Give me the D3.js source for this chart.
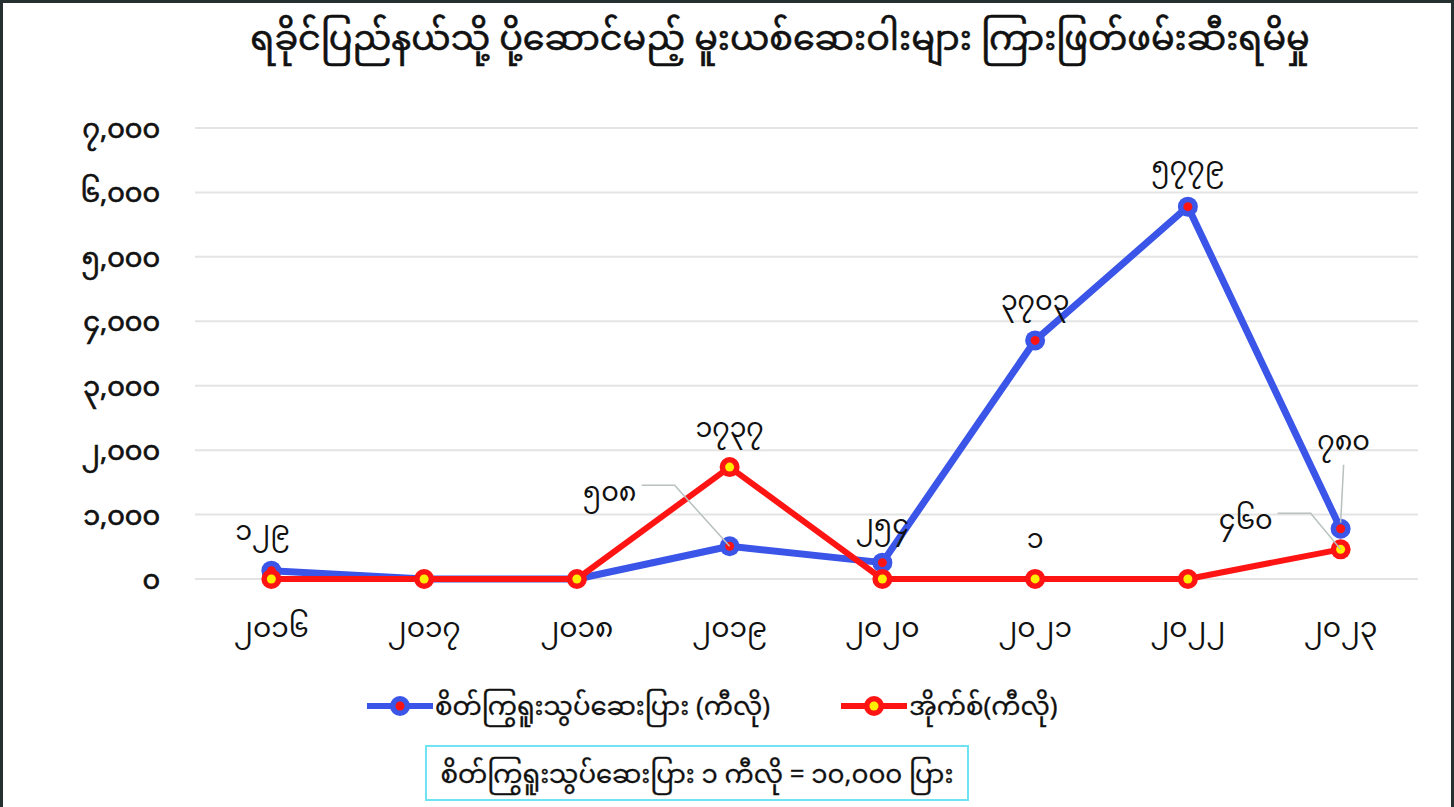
<!DOCTYPE html>
<html><head><meta charset="utf-8">
<script src="https://cdn.jsdelivr.net/npm/d3@7/dist/d3.min.js"></script>
<style>
html,body{margin:0;padding:0;background:#fff;}
svg{display:block;}
text{font-family:"Noto Sans Myanmar","Padauk","Myanmar Text","Noto Sans",sans-serif;fill:#111;}
</style></head>
<body><svg id="c" width="1454" height="807"></svg>
<script>
const title = "ရခိုင်ပြည်နယ်သို့ ပို့ဆောင်မည့် မူးယစ်ဆေးဝါးများ ကြားဖြတ်ဖမ်းဆီးရမိမှု";
const years = [2016, 2017, 2018, 2019, 2020, 2021, 2022, 2023];
const stimulantKg = [129, 0, 0, 508, 254, 3703, 5779, 780];
const iceKg = [0, 0, 0, 1737, 0, 1, 0, 460];
const yTicks = [0, 1000, 2000, 3000, 4000, 5000, 6000, 7000];
const seriesNames = ["စိတ်ကြွရူးသွပ်ဆေးပြား (ကီလို)", "အိုက်စ်(ကီလို)"];
const footnote = "စိတ်ကြွရူးသွပ်ဆေးပြား ၁ ကီလို = ၁၀,၀၀၀ ပြား";

const mm = s => String(s).replace(/[0-9]/g, d => String.fromCharCode(0x1040 + +d));

const svg = d3.select("#c");
const W = 1454, H = 807;
svg.append("rect").attr("x",1.5).attr("y",1.5).attr("width",W-3).attr("height",H+10)
  .attr("fill","none").attr("stroke","#263030").attr("stroke-width",3);

const x = d3.scaleBand().domain(years).range([195, 1417]);
const y = d3.scaleLinear().domain([0, 7000]).range([579, 128]);
const cx = d => x(d) + x.bandwidth()/2;

svg.append("text").attr("x",780).attr("y",50).attr("text-anchor","middle")
  .attr("font-size",35).attr("stroke","#111").attr("stroke-width",0.6).text(title);

svg.append("g").selectAll("line").data(yTicks).join("line")
  .attr("x1",195).attr("x2",1418).attr("y1",d=>y(d)).attr("y2",d=>y(d))
  .attr("stroke","#e4e4e4").attr("stroke-width",2);

const ya = svg.append("g").attr("transform","translate(160,0)")
  .call(d3.axisLeft(y).tickValues(yTicks).tickSize(0).tickPadding(0)
    .tickFormat(d => mm(d3.format(",")(d))));
ya.select(".domain").remove();
ya.selectAll("text").attr("font-size",27).attr("dy","0.35em")
  .attr("stroke","#111").attr("stroke-width",0.7)
  .style("font-family",'"Noto Sans Myanmar","Padauk",sans-serif').attr("fill","#111");

const xa = svg.append("g").attr("transform","translate(0,612)")
  .call(d3.axisBottom(x).tickSize(0).tickPadding(0).tickFormat(d => mm(d)));
xa.select(".domain").remove();
xa.selectAll("text").attr("font-size",28).attr("dy","0.9em")
  .style("font-family",'"Noto Sans Myanmar","Padauk",sans-serif').attr("fill","#111");

const BLUE = "#3a55e8", RED = "#ff1414", YEL = "#ffee00";
const line = d3.line().x((d,i)=>cx(years[i])).y(d=>y(d));

svg.append("path").datum(stimulantKg).attr("d",line).attr("fill","none")
  .attr("stroke",BLUE).attr("stroke-width",7).attr("stroke-linejoin","round");
svg.append("path").datum(iceKg).attr("d",line).attr("fill","none")
  .attr("stroke",RED).attr("stroke-width",6).attr("stroke-linejoin","round");

const leaders = svg.append("g").attr("stroke","#b8c0c0").attr("stroke-width",1.5).attr("fill","none");

function markers(data, outer, inner, shown){
  const g = svg.append("g");
  data.forEach((v,i)=>{
    if(!shown(i)) return;
    g.append("circle").attr("cx",cx(years[i])).attr("cy",y(v)).attr("r",10).attr("fill",outer);
    g.append("circle").attr("cx",cx(years[i])).attr("cy",y(v)).attr("r",4.5).attr("fill",inner);
  });
}
markers(stimulantKg, BLUE, RED, i => stimulantKg[i] > 0);
markers(iceKg, RED, YEL, i => true);

const labelLayout = [
  {s:stimulantKg, i:0, dx:-9, dy:-40},
  {s:stimulantKg, i:3, dx:-120, dy:-55, leader:true},
  {s:iceKg, i:3, dx:0, dy:-40},
  {s:stimulantKg, i:4, dx:0, dy:-38},
  {s:stimulantKg, i:5, dx:0, dy:-40},
  {s:iceKg, i:5, dx:0, dy:-40},
  {s:stimulantKg, i:6, dx:0, dy:-40},
  {s:stimulantKg, i:7, dx:3, dy:-88, leader:true, vert:true},
  {s:iceKg, i:7, dx:-95, dy:-30, leader:true}
];
labelLayout.forEach(L=>{
  const px = cx(years[L.i]), py = y(L.s[L.i]);
  const tx = px + L.dx, ty = py + L.dy;
  svg.append("text").attr("x",tx).attr("y",ty).attr("text-anchor","middle")
    .attr("dy","0.35em").attr("font-size",27).text(mm(L.s[L.i]));
  if(L.leader){
    if(L.vert){
      leaders.append("path").attr("d",`M${tx}, ${ty+24} L${px},${py-6}`);
    } else {
      const ex = tx + 32;
      leaders.append("path").attr("d",`M${ex},${ty-6} L${ex+33},${ty-6} L${px},${py}`);
    }
  }
});
leaders.raise();

const lg = svg.append("g");
[[BLUE, RED, 367, seriesNames[0]],[RED, YEL, 841, seriesNames[1]]].forEach(([c,ic,lx,name])=>{
  lg.append("line").attr("x1",lx).attr("x2",lx+66).attr("y1",706).attr("y2",706)
    .attr("stroke",c).attr("stroke-width",6);
  lg.append("circle").attr("cx",lx+33).attr("cy",706).attr("r",10).attr("fill",c);
  lg.append("circle").attr("cx",lx+33).attr("cy",706).attr("r",4.5).attr("fill",ic);
  lg.append("text").attr("x",lx+68).attr("y",706).attr("dy","0.35em").attr("font-size",26)
    .attr("stroke","#111").attr("stroke-width",0.3).text(name);
});

svg.append("rect").attr("x",426).attr("y",746).attr("width",542).attr("height",54)
  .attr("fill","#fff").attr("stroke","#6fe3f2").attr("stroke-width",2);
svg.append("text").attr("x",697).attr("y",774).attr("dy","0.35em").attr("text-anchor","middle")
  .attr("font-size",26).attr("stroke","#111").attr("stroke-width",0.3).text(footnote);
</script></body></html>
